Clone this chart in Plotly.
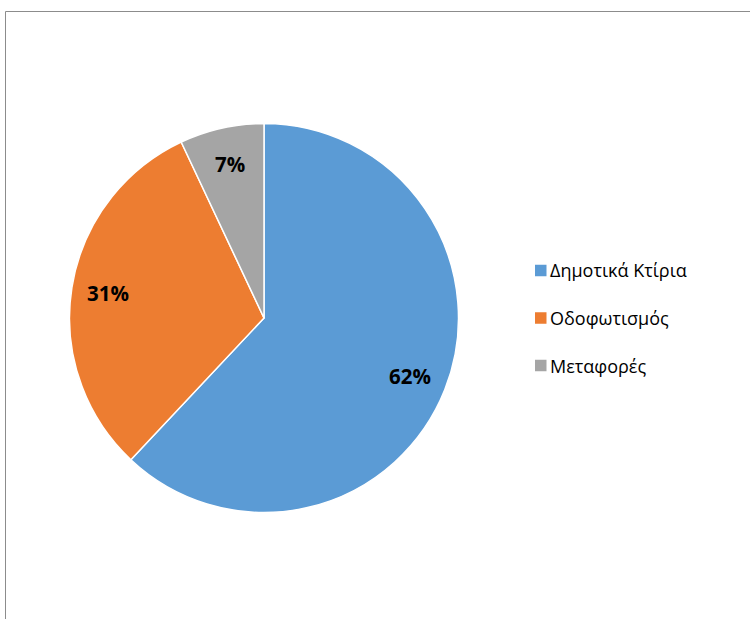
"""Pie chart: energy consumption shares by sector"""
import math
import plotly.graph_objects as go

# data
labels = ['Δημοτικά Κτίρια', 'Οδοφωτισμός', 'Μεταφορές']
values = [62, 31, 7]
colors = ['#5B9BD5', '#ED7D31', '#A5A5A5']

W, H = 750, 619
FONT = 'Open Sans'

# pie geometry in pixels
cx, cy, r = 264, 318, 194.5


def px(x):
    return x / W


def py(y):
    return 1 - y / H


fig = go.Figure(data=[
    go.Pie(
        labels=labels,
        values=values,
        sort=False,
        direction='clockwise',
        rotation=0,
        marker=dict(colors=colors, line=dict(color='white', width=1.5)),
        textinfo='none',
        hoverinfo='label+percent',
        showlegend=False,
        domain=dict(x=[px(cx - r), px(cx + r)], y=[py(cy + r), py(cy - r)]),
    )
])

# percentage labels placed on each slice's mid angle
total = sum(values)
annotations = []
cum = 0
for v in values:
    mid = (cum + v / 2) / total * 2 * math.pi
    cum += v
    d = 0.81 * r
    annotations.append(dict(
        x=px(cx + d * math.sin(mid)), y=py(cy - d * math.cos(mid)),
        xref='paper', yref='paper', showarrow=False,
        text=f'<b>{v / total:.0%}</b>',
        font=dict(family=FONT, size=20.5, color='#000000'),
        xanchor='center', yanchor='middle',
    ))

# legend (square marker + label), built from the data lists
shapes = []
leg_x, leg_y0, leg_step, sq = 535, 270.5, 47.5, 11.5
for i, (lab, col) in enumerate(zip(labels, colors)):
    yc = leg_y0 + i * leg_step
    shapes.append(dict(
        type='rect', xref='paper', yref='paper',
        x0=px(leg_x), x1=px(leg_x + sq), y0=py(yc + sq / 2), y1=py(yc - sq / 2),
        fillcolor=col, line=dict(width=0),
    ))
    annotations.append(dict(
        x=px(leg_x + sq + 1.5), y=py(yc), xref='paper', yref='paper',
        showarrow=False, text=lab, xanchor='left', yanchor='middle',
        font=dict(family=FONT, size=18, color='#000000'),
    ))

# chart frame (only left and top edges visible in the crop)
shapes.append(dict(
    type='rect', xref='paper', yref='paper',
    x0=px(5.5), x1=1.05, y0=-0.05, y1=py(11.5),
    line=dict(color='#8C8C8C', width=1), fillcolor='rgba(0,0,0,0)',
))

fig.update_layout(
    width=W, height=H,
    margin=dict(l=0, r=0, t=0, b=0),
    paper_bgcolor='white',
    plot_bgcolor='white',
    showlegend=False,
    annotations=annotations,
    shapes=shapes,
)

# drop the default page margin so the figure sits at the window origin
fig.write_html(
    'out.html',
    config={'displayModeBar': False},
    post_script="document.body.style.margin='0px';",
)
